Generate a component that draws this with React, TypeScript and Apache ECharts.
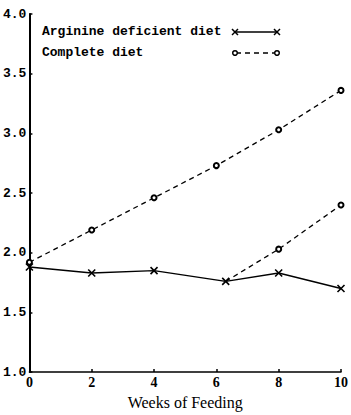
import React, { useEffect, useRef } from "react";
import * as echarts from "echarts";

const weeks = [0, 2, 4, 6.3, 8, 10];
const arginineDeficient = [1.88, 1.83, 1.85, 1.76, 1.83, 1.70];
const completeWeeks = [0, 2, 4, 6, 8, 10];
const completeDiet = [1.92, 2.19, 2.46, 2.73, 3.03, 3.36];
const switchedWeeks = [6.3, 8, 10];
const switchedDiet = [1.76, 2.03, 2.40];
const legendLabels = ["Arginine deficient diet", "Complete diet"];
const xTitle = "Weeks of Feeding";

const X_SYMBOL = "path://M0,0L10,10M10,0L0,10";
const MONO = "'Liberation Mono', 'DejaVu Sans Mono', monospace";
const SERIF = "'Liberation Serif', 'DejaVu Serif', serif";

export default function App() {
  const ref = useRef<HTMLDivElement>(null);
  useEffect(() => {
    if (!ref.current) return;
    const chart = echarts.init(ref.current, null, { renderer: "svg" });
    const dash = [5, 4];
    chart.setOption({
      animation: false,
      backgroundColor: "#fff",
      grid: { left: 28, right: 8, top: 14, bottom: 40 },
      xAxis: {
        type: "value",
        min: 0,
        max: 10,
        interval: 2,
        name: xTitle,
        nameLocation: "middle",
        nameGap: 20,
        nameTextStyle: { fontFamily: SERIF, fontSize: 16, color: "#000" },
        axisLine: { lineStyle: { color: "#000", width: 1.5 } },
        axisTick: { inside: true, length: 3, lineStyle: { color: "#000", width: 1.5 } },
        axisLabel: { fontFamily: SERIF, fontSize: 14, fontWeight: "bold", color: "#000", margin: 3 },
        splitLine: { show: false },
      },
      yAxis: {
        type: "value",
        min: 1,
        max: 4,
        interval: 0.5,
        axisLine: { show: true, lineStyle: { color: "#000", width: 2 } },
        axisTick: { show: true, inside: true, length: 3, lineStyle: { color: "#000", width: 1.5 } },
        axisLabel: {
          fontFamily: MONO,
          fontSize: 13,
          fontWeight: "bold",
          color: "#000",
          margin: 3,
          formatter: (v: number) => v.toFixed(1),
        },
        splitLine: { show: false },
      },
      series: [
        {
          type: "line",
          name: legendLabels[0],
          data: weeks.map((w, i) => [w, arginineDeficient[i]]),
          symbol: X_SYMBOL,
          symbolSize: 7,
          lineStyle: { color: "#000", width: 1.4 },
          itemStyle: { color: "#000", borderColor: "#000", borderWidth: 1.6 },
          z: 3,
        },
        {
          type: "line",
          name: legendLabels[1],
          data: completeWeeks.map((w, i) => [w, completeDiet[i]]),
          symbol: "emptyCircle",
          symbolSize: 5,
          lineStyle: { color: "#000", width: 1.3, type: dash },
          itemStyle: { color: "#000", borderColor: "#000", borderWidth: 1.6 },
        },
        {
          type: "line",
          name: "switched",
          data: switchedWeeks.map((w, i) => ({
            value: [w, switchedDiet[i]],
            symbol: i === 0 ? "none" : "emptyCircle",
          })),
          symbolSize: 5,
          lineStyle: { color: "#000", width: 1.3, type: dash },
          itemStyle: { color: "#000", borderColor: "#000", borderWidth: 1.6 },
        },
      ],
      graphic: [
        {
          type: "text",
          left: 42,
          top: 25,
          style: { text: legendLabels[0], font: `bold 13px ${MONO}`, fill: "#000" },
        },
        {
          type: "text",
          left: 42,
          top: 46,
          style: { text: legendLabels[1], font: `bold 13px ${MONO}`, fill: "#000" },
        },
        {
          type: "line",
          shape: { x1: 235, y1: 32, x2: 277, y2: 32 },
          style: { stroke: "#000", lineWidth: 1.4 },
        },
        {
          type: "polyline",
          shape: { points: [[232, 29], [238, 35]] },
          style: { stroke: "#000", lineWidth: 1.5, fill: null },
        },
        {
          type: "polyline",
          shape: { points: [[232, 35], [238, 29]] },
          style: { stroke: "#000", lineWidth: 1.5, fill: null },
        },
        {
          type: "polyline",
          shape: { points: [[274, 29], [280, 35]] },
          style: { stroke: "#000", lineWidth: 1.5, fill: null },
        },
        {
          type: "polyline",
          shape: { points: [[274, 35], [280, 29]] },
          style: { stroke: "#000", lineWidth: 1.5, fill: null },
        },
        {
          type: "line",
          shape: { x1: 236, y1: 53, x2: 276, y2: 53 },
          style: { stroke: "#000", lineWidth: 1.3, lineDash: dash },
        },
        {
          type: "circle",
          shape: { cx: 235, cy: 53, r: 2.3 },
          style: { stroke: "#000", lineWidth: 1.5, fill: "#fff" },
        },
        {
          type: "circle",
          shape: { cx: 277, cy: 53, r: 2.3 },
          style: { stroke: "#000", lineWidth: 1.5, fill: "#fff" },
        },
      ],
    });
    return () => chart.dispose();
  }, []);
  return (
    <div
      ref={ref}
      style={{ position: "fixed", left: 0, top: 0, width: 351, height: 415, background: "#fff" }}
    />
  );
}
